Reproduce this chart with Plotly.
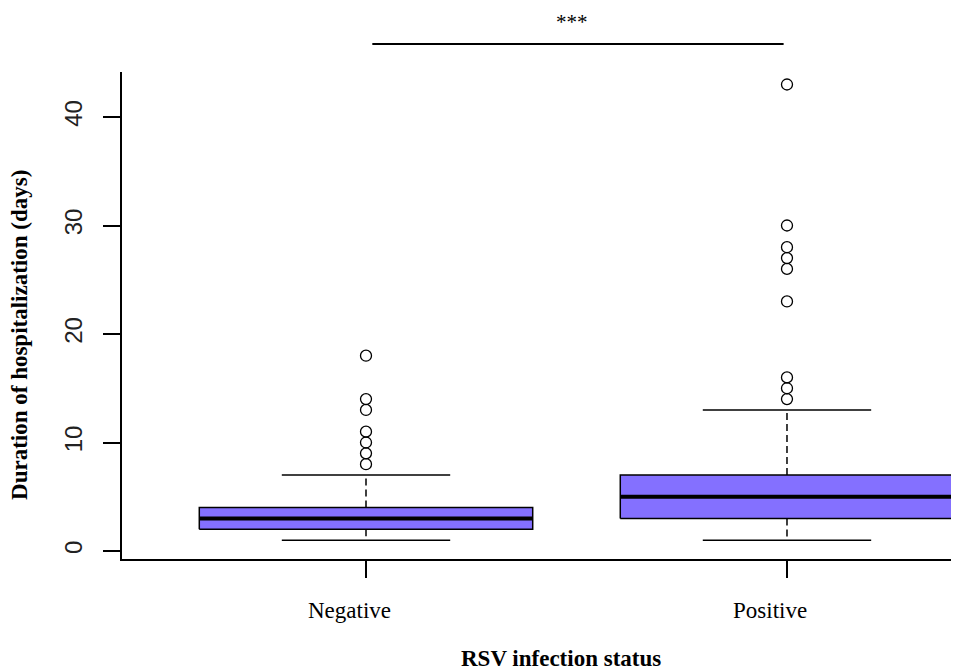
import plotly.graph_objects as go

# ---- data ----
categories = ["Negative", "Positive"]
positions = [1, 2]
lower_whisker = [1, 1]
q1 = [2, 3]
median = [3, 5]
q3 = [4, 7]
upper_whisker = [7, 13]
outliers_negative = [8, 9, 10, 11, 13, 14, 18]
outliers_positive = [14, 15, 16, 23, 26, 27, 28, 30, 43]
outliers = [outliers_negative, outliers_positive]
y_ticks = [0, 10, 20, 30, 40]
significance = "***"
x_title = "RSV infection status"
y_title = "Duration of hospitalization (days)"

# ---- style ----
BOX_HALF = 0.396
CAP_HALF = 0.2
FILL = "#8470FF"
SERIF = "Liberation Serif, Times New Roman, serif"
SANS = "Liberation Sans, Arial, sans-serif"

fig = go.Figure()

for i, x in enumerate(positions):
    # box body
    fig.add_trace(go.Scatter(
        x=[x - BOX_HALF, x + BOX_HALF, x + BOX_HALF, x - BOX_HALF, x - BOX_HALF],
        y=[q1[i], q1[i], q3[i], q3[i], q1[i]],
        mode="lines", fill="toself", fillcolor=FILL,
        line=dict(color="black", width=1.5), hoverinfo="skip", showlegend=False))
    # median
    fig.add_trace(go.Scatter(
        x=[x - BOX_HALF, x + BOX_HALF], y=[median[i], median[i]],
        mode="lines", line=dict(color="black", width=4), showlegend=False))
    # whiskers (dashed)
    fig.add_trace(go.Scatter(
        x=[x, x, None, x, x],
        y=[q3[i], upper_whisker[i], None, q1[i], lower_whisker[i]],
        mode="lines", line=dict(color="black", width=1.5, dash="7px,4px"),
        showlegend=False))
    # caps
    fig.add_trace(go.Scatter(
        x=[x - CAP_HALF, x + CAP_HALF, None, x - CAP_HALF, x + CAP_HALF],
        y=[upper_whisker[i], upper_whisker[i], None, lower_whisker[i], lower_whisker[i]],
        mode="lines", line=dict(color="black", width=1.5), showlegend=False))
    # outliers
    fig.add_trace(go.Scatter(
        x=[x] * len(outliers[i]), y=outliers[i], mode="markers",
        marker=dict(symbol="circle-open", size=11, color="black",
                    line=dict(width=1.3, color="black")),
        cliponaxis=False, showlegend=False))

# category labels (slightly left of ticks, as in the reference)
for x, c in zip(positions, categories):
    fig.add_annotation(x=x, y=0, xref="x", yref="paper", text=c,
                       showarrow=False, xshift=-17, yshift=-51,
                       xanchor="center", yanchor="middle",
                       font=dict(family=SERIF, size=23, color="black"))

# axis titles
fig.add_annotation(x=0.5245, y=0, xref="paper", yref="paper",
                   text="<b>" + x_title + "</b>", showarrow=False,
                   xanchor="center", yanchor="middle", yshift=-99,
                   font=dict(family=SERIF, size=23, color="black"))
fig.add_annotation(x=0, y=0.46, xref="paper", yref="paper",
                   text="<b>" + y_title + "</b>", showarrow=False, textangle=-90,
                   xanchor="center", yanchor="middle", xshift=-102,
                   font=dict(family=SERIF, size=23, color="black"))

# significance bracket
fig.add_shape(type="line", xref="x", yref="paper", x0=1.015, x1=1.992,
              y0=1.0575, y1=1.0575, line=dict(color="black", width=2))
fig.add_annotation(x=1.49, y=1.0575, xref="x", yref="paper", text=significance,
                   showarrow=False, xanchor="center", yanchor="middle", yshift=22,
                   font=dict(family=SERIF, size=21, color="black"))

fig.update_layout(
    width=951, height=663,
    margin=dict(l=114, r=0, t=64, b=112),
    plot_bgcolor="white", paper_bgcolor="white",
    showlegend=False,
    xaxis=dict(range=[0.4204, 2.4086], tickvals=positions, ticktext=["", ""],
               ticks="outside", ticklen=17, tickwidth=1.5, tickcolor="black",
               showline=True, linecolor="black", linewidth=1.5,
               showgrid=False, zeroline=False),
    yaxis=dict(range=[-0.737, 44.15], tickvals=y_ticks,
               ticks="outside", ticklen=17, tickwidth=1.5, tickcolor="black",
               tickangle=-90, tickfont=dict(family=SANS, size=24, color="#222"),
               ticklabelstandoff=12,
               showline=True, linecolor="black", linewidth=1.5,
               showgrid=False, zeroline=False),
)

fig.write_html("out.html")
